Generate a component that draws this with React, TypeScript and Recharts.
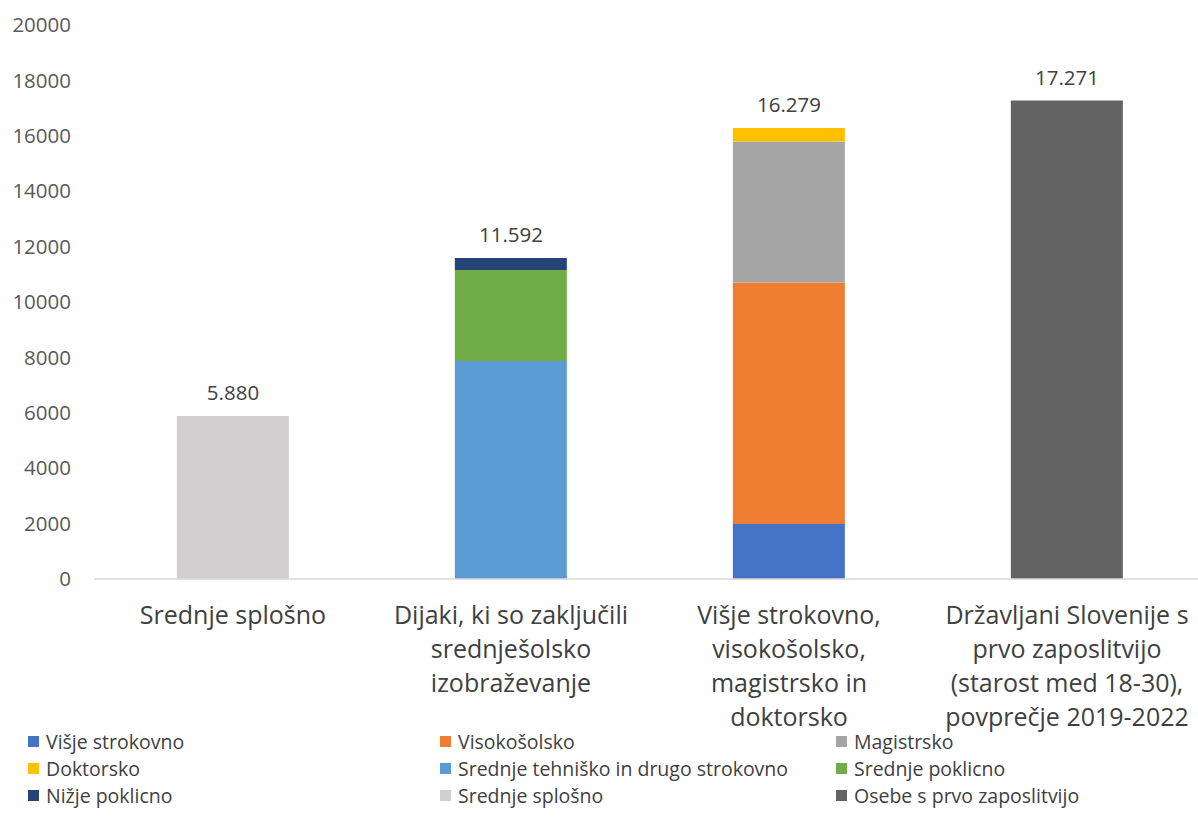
import React from "react";
import { ComposedChart, Bar, Line, XAxis, YAxis, LabelList } from "recharts";

const categories = [
  "Srednje splošno",
  "Dijaki, ki so zaključili srednješolsko izobraževanje",
  "Višje strokovno, visokošolsko, magistrsko in doktorsko",
  "Državljani Slovenije s prvo zaposlitvijo (starost med 18-30), povprečje 2019-2022",
];

// wrapped lines for the category ticks
const categoryLines = [
  ["Srednje splošno"],
  ["Dijaki, ki so zaključili", "srednješolsko", "izobraževanje"],
  ["Višje strokovno,", "visokošolsko,", "magistrsko in", "doktorsko"],
  ["Državljani Slovenije s", "prvo zaposlitvijo", "(starost med 18-30),", "povprečje 2019-2022"],
];

const visjeStrokovno = [0, 0, 1990, 0];
const visokosolsko = [0, 0, 8710, 0];
const magistrsko = [0, 0, 5090, 0];
const doktorsko = [0, 0, 489, 0];
const srednjeTehnisko = [0, 7870, 0, 0];
const srednjePoklicno = [0, 3285, 0, 0];
const nizjePoklicno = [0, 437, 0, 0];
const srednjeSplosno = [5880, 0, 0, 0];
const osebe = [0, 0, 0, 17271];
const totals = [5880, 11592, 16279, 17271];

const yTicks = [0, 2000, 4000, 6000, 8000, 10000, 12000, 14000, 16000, 18000, 20000];

const series = [
  { key: "visje", name: "Višje strokovno", values: visjeStrokovno, color: "#4472C4" },
  { key: "visoko", name: "Visokošolsko", values: visokosolsko, color: "#ED7D31" },
  { key: "mag", name: "Magistrsko", values: magistrsko, color: "#A5A5A5" },
  { key: "dokt", name: "Doktorsko", values: doktorsko, color: "#FFC000" },
  { key: "tehn", name: "Srednje tehniško in drugo strokovno", values: srednjeTehnisko, color: "#5B9BD5" },
  { key: "pokl", name: "Srednje poklicno", values: srednjePoklicno, color: "#70AD47" },
  { key: "nizje", name: "Nižje poklicno", values: nizjePoklicno, color: "#264478" },
  { key: "splosno", name: "Srednje splošno", values: srednjeSplosno, color: "#D0CECE" },
  { key: "osebe", name: "Osebe s prvo zaposlitvijo", values: osebe, color: "#636363" },
];

const data = categories.map((c, i) => {
  const row: Record<string, string | number> = { cat: c, total: totals[i] };
  series.forEach((s) => (row[s.key] = s.values[i]));
  return row;
});

const font = "'Open Sans', 'Noto Sans', sans-serif";

const fmt = (v: number) => v.toString().replace(/\B(?=(\d{3})+(?!\d))/g, ".");

function CatTick({ x, y, payload }: any) {
  const idx = categories.indexOf(payload.value);
  const lines = categoryLines[idx] || [payload.value];
  return (
    <text x={x} y={y} textAnchor="middle" fill="#404040" fontSize={25} fontFamily={font}>
      {lines.map((l, i) => (
        <tspan key={i} x={x} dy={i === 0 ? 37 : 34}>
          {l}
        </tspan>
      ))}
    </text>
  );
}

const legendCols = [28, 440, 836];
const legendRows = [741, 768, 795];

export default function App() {
  return (
    <div style={{ position: "absolute", left: 0, top: 0, width: 1198, height: 832, overflow: "hidden", background: "#fff" }}>
      <ComposedChart
        width={1206}
        height={832}
        data={data}
        margin={{ top: 25, right: 0, left: 0, bottom: 0 }}
        barCategoryGap="29.8%"
      >
        <XAxis
          dataKey="cat"
          tick={<CatTick />}
          tickLine={false}
          axisLine={{ stroke: "#D9D9D9", strokeWidth: 1.5 }}
          height={253}
          interval={0}
        />
        <YAxis
          domain={[0, 20000]}
          ticks={yTicks}
          width={94}
          axisLine={false}
          tickLine={false}
          tickMargin={17}
          tick={{ fill: "#595959", fontSize: 20.5, fontFamily: font }}
        />
        {series.map((s) => (
          <Bar key={s.key} dataKey={s.key} stackId="a" fill={s.color} isAnimationActive={false} />
        ))}
        <Line dataKey="total" stroke="none" dot={false} activeDot={false} isAnimationActive={false}>
          <LabelList
            dataKey="total"
            position="top"
            offset={16}
            formatter={(v: any) => fmt(Number(v))}
            fill="#404040"
            fontSize={20.5}
            fontFamily={font}
          />
        </Line>
      </ComposedChart>
      {series.map((s, i) => {
        const col = i % 3;
        const row = Math.floor(i / 3);
        return (
          <div
            key={s.key}
            style={{
              position: "absolute",
              left: legendCols[col],
              top: legendRows[row] - 12,
              height: 24,
              display: "flex",
              alignItems: "center",
              fontFamily: font,
              fontSize: 19.5,
              color: "#404040",
              whiteSpace: "nowrap",
            }}
          >
            <span style={{ display: "inline-block", width: 11, height: 11, background: s.color, marginRight: 7 }} />
            {s.name}
          </div>
        );
      })}
    </div>
  );
}
